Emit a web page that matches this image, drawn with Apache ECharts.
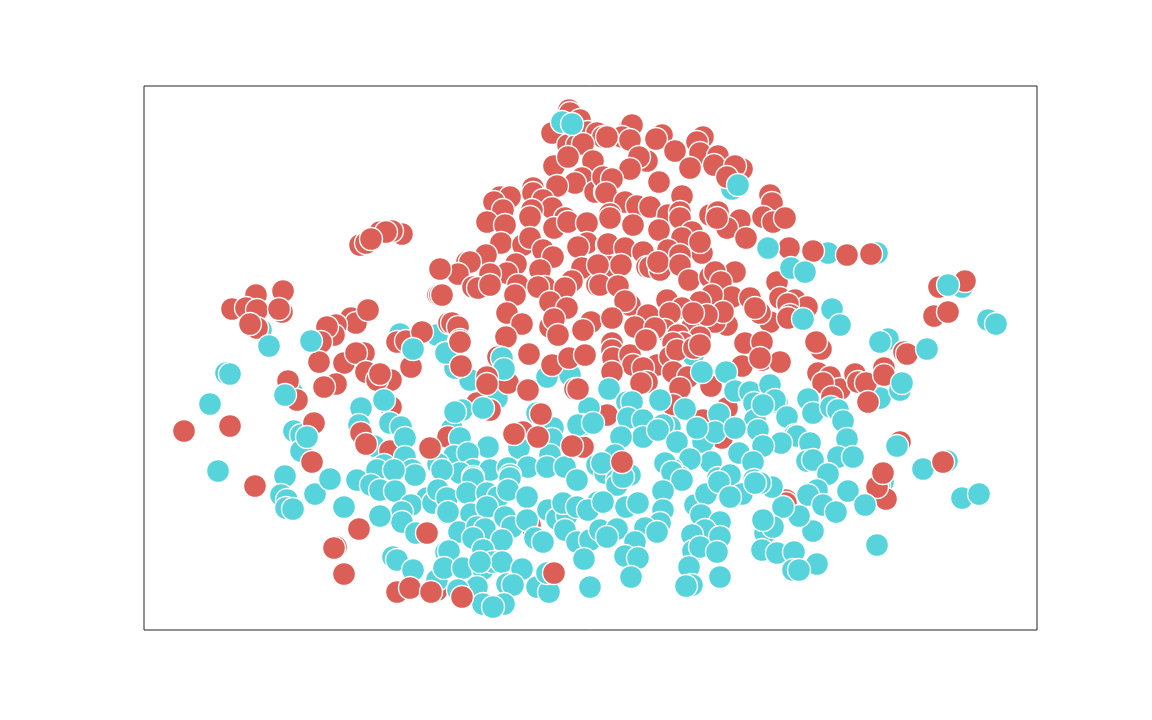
<!DOCTYPE html>
<html><head><meta charset="utf-8"><style>html,body{margin:0;background:#fff}#c{width:1152px;height:720px}</style>
<script src="https://cdn.jsdelivr.net/npm/echarts@6/dist/echarts.min.js"></script></head>
<body><div id="c"></div><script>
const tealBack=[[261,330],[292,392],[226,373],[437,335],[400,334],[374,446],[294,431],[301,435],[828,253],[877,253],[888,339],[962,287],[988,320],[732,189],[693,355],[537,413],[470,380],[497,398],[445,353],[455,368],[452,429],[880,398],[900,390],[947,461],[883,482],[879,485]];
const red=[[360,245],[366,243],[402,234],[380,232],[392,231],[386,232],[371,239],[256,295],[283,291],[232,309],[246,308],[257,310],[282,312],[279,309],[257,328],[250,324],[351,318],[356,323],[368,310],[336,325],[334,335],[327,327],[321,342],[319,362],[344,363],[364,353],[356,353],[366,372],[391,380],[377,380],[380,374],[336,384],[324,387],[288,381],[297,400],[230,426],[391,407],[411,367],[397,342],[406,341],[422,332],[439,269],[438,295],[440,295],[314,423],[449,323],
[569,110],[570,113],[552,133],[580,120],[588,132],[597,133],[603,137],[568,145],[577,145],[583,144],[593,161],[554,166],[568,157],[582,178],[575,183],[557,186],[595,192],[605,192],[500,197],[510,197],[494,202],[533,188],[533,193],[543,200],[552,208],[532,210],[503,210],[487,222],[565,218],[505,225],[530,217],[554,228],[568,222],[587,223],[501,243],[523,245],[530,238],[543,250],[553,257],[587,243],[578,247],[607,245],[486,255],[467,262],[470,262],[516,264],[458,274],[440,269],[540,270],[582,268],[607,266],[507,273],[490,274],[572,281],[597,285],[473,287],[478,288],[490,285],[518,285],[545,287],[538,287],[565,288],[442,295],[515,295],[550,302],[567,308],[507,313],[522,324],[550,327],[554,319],[558,335],[591,322],[583,330],[452,323],[458,327],[460,340],[506,337],
[630,127],[632,125],[622,137],[630,140],[607,137],[662,135],[656,139],[675,151],[703,137],[697,142],[700,153],[718,156],[714,165],[690,168],[742,169],[735,166],[727,177],[647,161],[639,157],[630,169],[659,182],[603,177],[612,179],[606,193],[625,202],[637,206],[650,207],[682,196],[668,215],[680,212],[710,215],[718,212],[740,220],[770,195],[772,203],[763,217],[773,222],[785,218],[610,214],
[610,218],[633,225],[659,230],[680,218],[692,232],[682,238],[702,253],[700,242],[668,250],[680,255],[727,228],[746,238],[717,218],[608,244],[625,248],[643,252],[647,267],[650,267],[660,270],[658,262],[680,265],[621,265],[598,265],[600,285],[618,286],[630,305],[625,301],[612,318],[689,280],[667,300],[735,272],[710,277],[715,272],[721,282],[732,297],[712,295],[700,302],[750,298],[682,308],[648,315],[670,313],[635,327],[665,330],[655,328],[647,340],[692,327],[727,325],[715,322],[700,337],[678,335],[683,343],[673,343],[612,343],[723,312],[707,315],[693,313],
[789,248],[813,251],[847,255],[871,254],[777,282],[780,298],[795,300],[807,307],[788,304],[770,322],[760,313],[755,308],[790,315],[788,318],[821,349],[816,342],[745,343],[762,342],[762,360],[780,362],[742,366],[760,358],[818,373],[830,377],[835,390],[840,389],[823,383],[855,374],[858,382],[866,383],[884,368],[884,375],[868,402],[832,397],[904,352],[907,354],[939,287],[965,281],[934,316],[948,312],
[612,350],[613,358],[630,355],[633,365],[657,365],[643,368],[612,372],[647,382],[641,383],[646,340],[670,357],[677,350],[694,348],[700,345],[673,372],[688,377],[680,388],[711,386],[673,405],[727,408],[703,420],[722,438],[607,415],[786,500],[786,503],[900,442],[886,499],[877,487],[530,525],[390,451],[498,357],[477,403],[490,410],[523,432],[448,437],[583,447],[508,383],[440,588],[437,590]];
const tealFront=[[269,346],[311,341],[230,374],[210,404],[285,395],[384,400],[361,408],[389,423],[413,349],[446,353],
[218,471],[285,476],[281,495],[287,500],[286,508],[293,509],[315,494],[330,479],[344,507],[357,480],[301,451],[307,437],[359,425],[390,423],[401,427],[405,438],[405,457],[384,465],[412,470],[415,475],[377,470],[394,470],[371,485],[380,490],[395,491],[427,498],[411,505],[402,512],[402,522],[380,516],[416,533],[442,465],[439,492],[446,498],[433,503],[447,513],[393,557],[397,560],[413,570],[446,552],[444,568],[437,580],
[562,122],[572,124],[738,185],[768,248],[791,268],[805,272],[832,309],[840,325],[803,319],[927,349],[880,342],[902,383],[948,285],[996,324],
[502,358],[504,369],[462,410],[455,412],[483,408],[547,377],[570,375],[589,408],[582,425],[578,425],[593,423],[553,428],[552,439],[460,438],[488,447],[519,448],[454,456],[468,453],[550,455],[438,464],[473,470],[490,470],[508,468],[528,467],[547,467],[565,467],[597,465],[460,473],[510,475],[473,477],[605,473],
[609,389],[627,402],[632,402],[660,400],[685,409],[628,418],[643,420],[643,437],[621,437],[670,427],[663,425],[658,430],[677,442],[703,442],[719,414],[702,372],[726,372],[735,391],[750,392],[770,385],[754,403],[755,420],[758,430],[777,402],[775,400],[808,399],[763,405],[787,417],[813,413],[831,407],[838,410],[843,421],[795,435],[797,436],[781,443],[763,446],[715,432],[697,428],[735,428],[739,453],[711,462],[690,459],[672,469],[665,463],[680,477],[615,455],[602,463],[617,480],[630,475],[718,478],[730,475],[753,462],[754,480],[810,443],[847,439],[807,461],[813,460],[838,457],[853,457],[897,446],[923,469],[828,474],[848,491],[817,490],[808,495],[823,505],[836,512],[865,505],[962,498],[979,494],[877,545],[813,531],[799,516],[783,507],[772,487],[760,483],[765,533],[773,527],[763,520],[762,550],[777,553],[794,552],[817,564],[793,570],[799,570],
[442,470],[473,479],[510,478],[438,490],[447,498],[467,493],[487,493],[498,497],[508,490],[527,497],[448,512],[471,514],[487,507],[459,532],[477,527],[485,529],[505,517],[512,527],[502,540],[473,538],[527,520],[535,538],[543,542],[548,510],[557,519],[567,515],[563,503],[577,480],[577,507],[598,502],[588,510],[565,530],[577,542],[590,540],[600,530],[584,559],[590,587],[449,551],[483,550],[444,568],[463,568],[483,569],[493,562],[502,562],[480,562],[522,569],[507,584],[513,585],[477,587],[458,590],[537,587],[549,592],[547,573],[483,604],[504,604],[493,607],
[672,472],[682,480],[617,485],[623,477],[663,491],[663,510],[695,505],[706,494],[719,482],[742,494],[730,497],[755,483],[603,502],[626,507],[638,503],[701,515],[720,522],[660,523],[645,528],[657,532],[617,529],[607,537],[635,542],[705,530],[720,537],[692,535],[693,551],[700,547],[717,552],[625,556],[638,558],[689,567],[631,577],[720,577],[692,585],[686,586]];
const redTop=[[184,431],[255,486],[312,462],[361,433],[366,444],[430,448],[359,529],[336,547],[334,548],[344,574],[427,533],[554,573],[622,462],[514,434],[541,414],[538,437],[572,446],[462,597],[397,592],[410,588],[431,592],[883,473],[943,462],[461,366],[460,342],[487,377],[487,384],[552,365],[569,358],[585,355],[529,354],[528,390],[575,389],[578,389]];
const xRange=[144,1037], yRange=[86,630];
const red_c='#db5f57', teal_c='#57d3db';
function layer(pts,color){return {type:'scatter',data:pts,symbolSize:23,itemStyle:{color:color,borderColor:'#fff',borderWidth:1.4,opacity:1},silent:true,clip:true};}
const chart=echarts.init(document.getElementById('c'),null,{renderer:'canvas'});
chart.setOption({animation:false,backgroundColor:'#fff',
grid:{left:144,top:86,width:893,height:544,show:true,borderColor:'#222',borderWidth:1,backgroundColor:'transparent'},
xAxis:{type:'value',min:xRange[0],max:xRange[1],show:false,splitLine:{show:false}},
yAxis:{type:'value',min:yRange[0],max:yRange[1],inverse:true,show:false,splitLine:{show:false}},
series:[layer(tealBack,teal_c),layer(red,red_c),layer(tealFront,teal_c),layer(redTop,red_c)]});
</script></body></html>
